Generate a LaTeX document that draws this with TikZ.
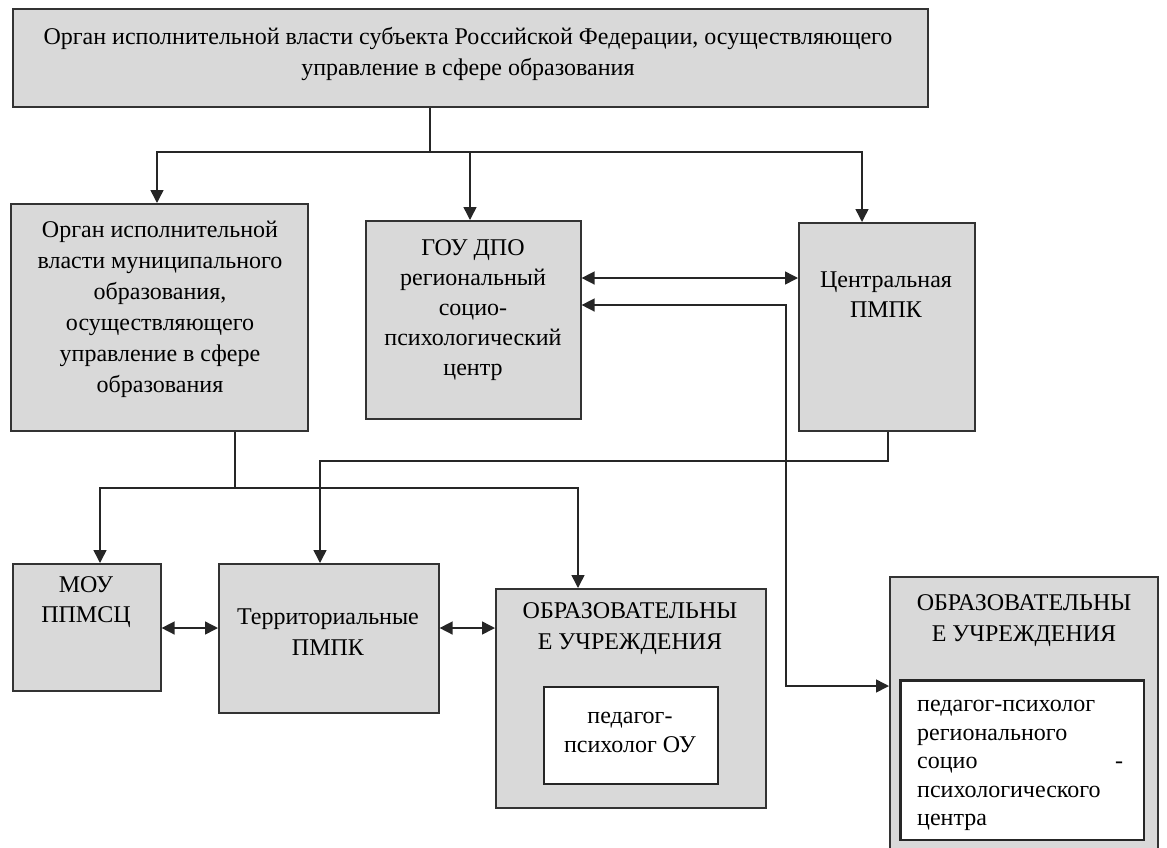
\documentclass[tikz,border=0pt]{standalone}
\usepackage{fontspec}
\setmainfont{Liberation Serif}
\usetikzlibrary{arrows.meta}
\tikzset{
  box/.style={draw=black!80, line width=1.6pt, fill=black!15, anchor=north west, inner sep=0pt},
  wbox/.style={draw=black!85, line width=1.6pt, fill=white, anchor=north west, inner sep=0pt},
  txt/.style={align=center, inner sep=0pt, font=\fontsize{24}{31}\selectfont},
  line/.style={draw=black!85, line width=1.5pt},
  arr/.style={line, -{Triangle[length=13pt,width=13pt]}},
  darr/.style={line, {Triangle[length=13pt,width=13pt]}-{Triangle[length=13pt,width=13pt]}},
}
\begin{document}
\begin{tikzpicture}[x=1pt,y=-1pt]
\useasboundingbox (0,0) rectangle (1167,847);
\clip (0,0) rectangle (1167,847);
% boxes
\node[box, minimum width=915pt, minimum height=98pt] (top) at (12,8) {};
\node[box, minimum width=297pt, minimum height=227pt] (munic) at (10,203) {};
\node[box, minimum width=215pt, minimum height=198pt] (gou) at (365,220) {};
\node[box, minimum width=176pt, minimum height=208pt] (central) at (798,222) {};
\node[box, minimum width=148pt, minimum height=127pt] (mou) at (12,563) {};
\node[box, minimum width=220pt, minimum height=149pt] (terr) at (218,563) {};
\node[box, minimum width=270pt, minimum height=219pt] (ou1) at (495,588) {};
\node[wbox, minimum width=174pt, minimum height=97pt] (ped1) at (543,686) {};
\node[box, minimum width=268pt, minimum height=300pt] (ou2) at (889,576) {};
\node[wbox, minimum width=243pt, minimum height=159pt] (ped2) at (900,680) {};
% texts
\node[txt] (ttop) at (468,54) {Орган исполнительной власти субъекта Российской Федерации, осуществляющего\\управление в сфере образования};
\node[txt] (tmunic) at (160,309) {Орган исполнительной\\власти муниципального\\образования,\\осуществляющего\\управление в сфере\\образования};
\node[txt, font=\fontsize{24}{30}\selectfont] (tgou) at (473,310) {ГОУ ДПО\\региональный\\социо-\\психологический\\центр};
\node[txt, font=\fontsize{24}{30}\selectfont] (tcentral) at (886,295) {Центральная\\ПМПК};
\node[txt, font=\fontsize{24}{30}\selectfont] (tmou) at (86,602) {МОУ\\ППМСЦ};
\node[txt, font=\fontsize{24}{31}\selectfont] (tterr) at (328,632) {Территориальные\\ПМПК};
\node[txt] (tou1) at (630,629) {ОБРАЗОВАТЕЛЬНЫ\\Е УЧРЕЖДЕНИЯ};
\node[txt, font=\fontsize{24}{29}\selectfont] (tped1) at (630,732) {педагог-\\психолог ОУ};
\node[txt] (tou2) at (1024,621) {ОБРАЗОВАТЕЛЬНЫ\\Е УЧРЕЖДЕНИЯ};
\begin{scope}
\clip (ped2.north west) rectangle (ped2.south east);
\node[inner sep=0pt, anchor=north west, text width=206pt, align=left, font=\fontsize{24}{28.5}\selectfont] (tped2) at (917,700)
 {педагог-психолог\\регионального\\социо\hfill -\\психологического\\центра};
\end{scope}
\draw[draw=black!85, line width=1.6pt] (ped2.north west) rectangle (ped2.south east);
% junction coordinates
\coordinate (t) at (430,152);
\coordinate (tl) at (157,152);
\coordinate (tm) at (470,152);
\coordinate (tr) at (862,152);
\coordinate (y1) at (700,278);
\coordinate (k1) at (786,305);
\coordinate (k2) at (786,686);
\coordinate (m1) at (888,461);
\coordinate (m2) at (320,461);
\coordinate (n) at (235,488);
\coordinate (nl) at (100,488);
\coordinate (nr) at (578,488);
\coordinate (b) at (300,628);
% connectors
\draw[arr] (top.south -| t) -- (t) -| (munic.north -| tl);
\draw[arr] (t) -| (gou.north -| tm);
\draw[arr] (t) -| (central.north -| tr);
\draw[darr] (gou.east |- y1) -- (central.west |- y1);
\draw[darr] (gou.east |- k1) -- (k1) -- (k2) -- (ou2.west |- k2);
\draw[arr] (central.south -| m1) -- (m1) -- (m2) -- (terr.north -| m2);
\draw[arr] (munic.south -| n) -- (n) -| (mou.north -| nl);
\draw[arr] (n) -| (ou1.north -| nr);
\draw[darr] (mou.east |- b) -- (terr.west |- b);
\draw[darr] (terr.east |- b) -- (ou1.west |- b);
\end{tikzpicture}
\end{document}
